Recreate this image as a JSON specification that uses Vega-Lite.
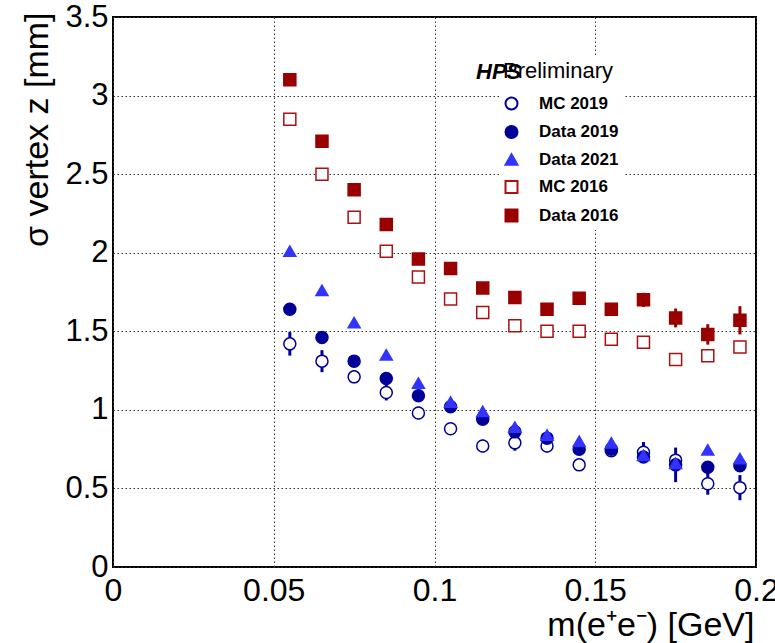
{
  "$schema": "https://vega.github.io/schema/vega-lite/v6.json",
  "width": 643,
  "height": 550,
  "autosize": {"type": "none"},
  "padding": {"left": 113, "top": 17, "right": 19, "bottom": 76},
  "background": "white",
  "config": {
    "font": "Liberation Sans",
    "view": {"stroke": "black", "strokeWidth": 2},
    "axis": {
      "labelFont": "Liberation Sans",
      "labelColor": "black",
      "titleFont": "Liberation Sans",
      "titleColor": "black",
      "titleFontWeight": "normal",
      "tickColor": "black",
      "tickWidth": 1,
      "tickSize": 0,
      "domain": false,
      "labelFlush": false,
      "labelOverlap": false,
      "labelBound": false,
      "format": "~g"
    },
    "legend": {
      "padding": 4,
      "fillColor": "white",
      "titleFont": "Liberation Sans",
      "titleFontSize": 22,
      "titleFontWeight": "normal",
      "titleColor": "black",
      "titleBaseline": "top",
      "titlePadding": 12,
      "labelFont": "Liberation Sans",
      "labelFontSize": 17,
      "labelFontWeight": "bold",
      "labelColor": "black",
      "labelOffset": 19,
      "rowPadding": 7.5,
      "symbolSize": 144,
      "symbolStrokeWidth": 2
    }
  },
  "title": {
    "text": "HPS",
    "font": "Liberation Sans",
    "fontSize": 22,
    "fontWeight": "bold",
    "fontStyle": "italic",
    "color": "black",
    "anchor": "start",
    "frame": "group",
    "baseline": "alphabetic",
    "offset": 0,
    "dx": 363,
    "dy": 100
  },
  "data": {
    "values": [
      {"x": 0.055, "series": "MC 2019", "value": 1.42, "err": 0.075},
      {"x": 0.065, "series": "MC 2019", "value": 1.31, "err": 0.07},
      {"x": 0.075, "series": "MC 2019", "value": 1.21, "err": 0.04},
      {"x": 0.085, "series": "MC 2019", "value": 1.11, "err": 0.05},
      {"x": 0.095, "series": "MC 2019", "value": 0.98, "err": 0.04},
      {"x": 0.105, "series": "MC 2019", "value": 0.88, "err": 0.02},
      {"x": 0.115, "series": "MC 2019", "value": 0.77, "err": 0.04},
      {"x": 0.125, "series": "MC 2019", "value": 0.79, "err": 0.05},
      {"x": 0.135, "series": "MC 2019", "value": 0.77, "err": 0.04},
      {"x": 0.145, "series": "MC 2019", "value": 0.65, "err": 0.02},
      {"x": 0.155, "series": "MC 2019", "value": 0.74, "err": 0.03},
      {"x": 0.165, "series": "MC 2019", "value": 0.73, "err": 0.065},
      {"x": 0.175, "series": "MC 2019", "value": 0.68, "err": 0.04},
      {"x": 0.185, "series": "MC 2019", "value": 0.53, "err": 0.07},
      {"x": 0.195, "series": "MC 2019", "value": 0.505, "err": 0.08},
      {"x": 0.055, "series": "Data 2019", "value": 1.64, "err": 0.02},
      {"x": 0.065, "series": "Data 2019", "value": 1.46, "err": 0.02},
      {"x": 0.075, "series": "Data 2019", "value": 1.31, "err": 0.02},
      {"x": 0.085, "series": "Data 2019", "value": 1.2, "err": 0.02},
      {"x": 0.095, "series": "Data 2019", "value": 1.09, "err": 0.02},
      {"x": 0.105, "series": "Data 2019", "value": 1.02, "err": 0.02},
      {"x": 0.115, "series": "Data 2019", "value": 0.94, "err": 0.02},
      {"x": 0.125, "series": "Data 2019", "value": 0.86, "err": 0.02},
      {"x": 0.135, "series": "Data 2019", "value": 0.82, "err": 0.02},
      {"x": 0.145, "series": "Data 2019", "value": 0.75, "err": 0.02},
      {"x": 0.155, "series": "Data 2019", "value": 0.75, "err": 0.03},
      {"x": 0.165, "series": "Data 2019", "value": 0.7, "err": 0.03},
      {"x": 0.175, "series": "Data 2019", "value": 0.65, "err": 0.11},
      {"x": 0.185, "series": "Data 2019", "value": 0.635, "err": 0.03},
      {"x": 0.195, "series": "Data 2019", "value": 0.645, "err": 0.04},
      {"x": 0.055, "series": "Data 2021", "value": 2.01, "err": 0.01},
      {"x": 0.065, "series": "Data 2021", "value": 1.76, "err": 0.01},
      {"x": 0.075, "series": "Data 2021", "value": 1.555, "err": 0.01},
      {"x": 0.085, "series": "Data 2021", "value": 1.35, "err": 0.01},
      {"x": 0.095, "series": "Data 2021", "value": 1.17, "err": 0.01},
      {"x": 0.105, "series": "Data 2021", "value": 1.05, "err": 0.01},
      {"x": 0.115, "series": "Data 2021", "value": 0.99, "err": 0.01},
      {"x": 0.125, "series": "Data 2021", "value": 0.89, "err": 0.01},
      {"x": 0.135, "series": "Data 2021", "value": 0.84, "err": 0.01},
      {"x": 0.145, "series": "Data 2021", "value": 0.8, "err": 0.01},
      {"x": 0.155, "series": "Data 2021", "value": 0.79, "err": 0.01},
      {"x": 0.165, "series": "Data 2021", "value": 0.71, "err": 0.01},
      {"x": 0.175, "series": "Data 2021", "value": 0.66, "err": 0.01},
      {"x": 0.185, "series": "Data 2021", "value": 0.745, "err": 0.01},
      {"x": 0.195, "series": "Data 2021", "value": 0.69, "err": 0.01},
      {"x": 0.055, "series": "MC 2016", "value": 2.85, "err": 0.01},
      {"x": 0.065, "series": "MC 2016", "value": 2.5, "err": 0.01},
      {"x": 0.075, "series": "MC 2016", "value": 2.225, "err": 0.01},
      {"x": 0.085, "series": "MC 2016", "value": 2.01, "err": 0.01},
      {"x": 0.095, "series": "MC 2016", "value": 1.845, "err": 0.01},
      {"x": 0.105, "series": "MC 2016", "value": 1.705, "err": 0.01},
      {"x": 0.115, "series": "MC 2016", "value": 1.62, "err": 0.01},
      {"x": 0.125, "series": "MC 2016", "value": 1.535, "err": 0.01},
      {"x": 0.135, "series": "MC 2016", "value": 1.5, "err": 0.01},
      {"x": 0.145, "series": "MC 2016", "value": 1.5, "err": 0.01},
      {"x": 0.155, "series": "MC 2016", "value": 1.45, "err": 0.01},
      {"x": 0.165, "series": "MC 2016", "value": 1.43, "err": 0.01},
      {"x": 0.175, "series": "MC 2016", "value": 1.32, "err": 0.01},
      {"x": 0.185, "series": "MC 2016", "value": 1.345, "err": 0.01},
      {"x": 0.195, "series": "MC 2016", "value": 1.4, "err": 0.01},
      {"x": 0.055, "series": "Data 2016", "value": 3.1, "err": 0.01},
      {"x": 0.065, "series": "Data 2016", "value": 2.71, "err": 0.01},
      {"x": 0.075, "series": "Data 2016", "value": 2.4, "err": 0.01},
      {"x": 0.085, "series": "Data 2016", "value": 2.18, "err": 0.01},
      {"x": 0.095, "series": "Data 2016", "value": 1.96, "err": 0.01},
      {"x": 0.105, "series": "Data 2016", "value": 1.9, "err": 0.01},
      {"x": 0.115, "series": "Data 2016", "value": 1.775, "err": 0.01},
      {"x": 0.125, "series": "Data 2016", "value": 1.715, "err": 0.01},
      {"x": 0.135, "series": "Data 2016", "value": 1.64, "err": 0.01},
      {"x": 0.145, "series": "Data 2016", "value": 1.71, "err": 0.01},
      {"x": 0.155, "series": "Data 2016", "value": 1.64, "err": 0.01},
      {"x": 0.165, "series": "Data 2016", "value": 1.7, "err": 0.045},
      {"x": 0.175, "series": "Data 2016", "value": 1.585, "err": 0.06},
      {"x": 0.185, "series": "Data 2016", "value": 1.48, "err": 0.065},
      {"x": 0.195, "series": "Data 2016", "value": 1.57, "err": 0.09}
    ]
  },
  "layer": [
    {
      "mark": {"type": "errorbar", "thickness": 3},
      "encoding": {
        "x": {
          "field": "x",
          "type": "quantitative",
          "scale": {"domain": [0, 0.2], "nice": false, "zero": false},
          "axis": {
            "orient": "top",
            "title": null,
            "labels": false,
            "grid": false,
            "values": [0, 0.01, 0.02, 0.03, 0.04, 0.05, 0.06, 0.07, 0.08, 0.09, 0.1, 0.11, 0.12, 0.13, 0.14, 0.15, 0.16, 0.17, 0.18, 0.19, 0.2],
            "encode": {"ticks": {"update": {"y2": {"signal": "abs(datum.value*20-round(datum.value*20))<0.001 ? 16 : 8"}}}}
          }
        },
        "y": {
          "field": "value",
          "type": "quantitative",
          "scale": {"domain": [0, 3.5], "nice": false, "zero": false},
          "axis": {
            "orient": "right",
            "title": null,
            "labels": false,
            "grid": false,
            "values": [0, 0.1, 0.2, 0.3, 0.4, 0.5, 0.6, 0.7, 0.8, 0.9, 1, 1.1, 1.2, 1.3, 1.4, 1.5, 1.6, 1.7, 1.8, 1.9, 2, 2.1, 2.2, 2.3, 2.4, 2.5, 2.6, 2.7, 2.8, 2.9, 3, 3.1, 3.2, 3.3, 3.4, 3.5],
            "encode": {"ticks": {"update": {"x2": {"signal": "abs(datum.value*2-round(datum.value*2))<0.001 ? -16 : -8"}}}}
          }
        },
        "yError": {"field": "err"},
        "color": {
          "field": "series",
          "type": "nominal",
          "scale": {"domain": ["Data 2016", "MC 2016", "Data 2021", "Data 2019", "MC 2019"], "range": ["#990000", "#990000", "#3333ff", "#000099", "#000099"]},
          "legend": null
        }
      }
    },
    {
      "mark": {"type": "point", "strokeWidth": 1.5, "opacity": 1},
      "encoding": {
        "x": {
          "field": "x",
          "type": "quantitative",
          "scale": {"domain": [0, 0.2], "nice": false, "zero": false},
          "axis": {
            "orient": "bottom",
            "title": "m(e⁺e⁻) [GeV]",
            "titleFontSize": 34,
            "titleAlign": "right",
            "titleBaseline": "middle",
            "titleX": 641,
            "titleY": 58,
            "labelFontSize": 32,
            "labelPadding": 8,
            "labelBaseline": "top",
            "labelExpr": "abs(datum.value*20-round(datum.value*20))<0.001 ? datum.label : ''",
            "values": [0, 0.01, 0.02, 0.03, 0.04, 0.05, 0.06, 0.07, 0.08, 0.09, 0.1, 0.11, 0.12, 0.13, 0.14, 0.15, 0.16, 0.17, 0.18, 0.19, 0.2],
            "grid": true,
            "gridColor": "#333333",
            "gridDash": [1.5, 2.5],
            "gridWidth": 1,
            "gridOpacity": {"condition": {"test": "abs(datum.value*20-round(datum.value*20))<0.001", "value": 1}, "value": 0},
            "encode": {"ticks": {"update": {"y2": {"signal": "abs(datum.value*20-round(datum.value*20))<0.001 ? -16 : -8"}}}}
          }
        },
        "y": {
          "field": "value",
          "type": "quantitative",
          "scale": {"domain": [0, 3.5], "nice": false, "zero": false},
          "axis": {
            "orient": "left",
            "title": "σ vertex z [mm]",
            "titleFontSize": 34,
            "titleAngle": -90,
            "titleAlign": "right",
            "titleBaseline": "middle",
            "titleX": -76,
            "titleY": -5,
            "labelFontSize": 31,
            "labelPadding": 5,
            "labelExpr": "abs(datum.value*2-round(datum.value*2))<0.001 ? datum.label : ''",
            "values": [0, 0.1, 0.2, 0.3, 0.4, 0.5, 0.6, 0.7, 0.8, 0.9, 1, 1.1, 1.2, 1.3, 1.4, 1.5, 1.6, 1.7, 1.8, 1.9, 2, 2.1, 2.2, 2.3, 2.4, 2.5, 2.6, 2.7, 2.8, 2.9, 3, 3.1, 3.2, 3.3, 3.4, 3.5],
            "grid": true,
            "gridColor": "#333333",
            "gridDash": [1.5, 2.5],
            "gridWidth": 1,
            "gridOpacity": {"condition": {"test": "abs(datum.value*2-round(datum.value*2))<0.001", "value": 1}, "value": 0},
            "encode": {"ticks": {"update": {"x2": {"signal": "abs(datum.value*2-round(datum.value*2))<0.001 ? 16 : 8"}}}}
          }
        },
        "size": {
          "field": "series",
          "type": "nominal",
          "scale": {"domain": ["Data 2016", "MC 2016", "Data 2021", "Data 2019", "MC 2019"], "range": [144, 144, 190, 120, 120]},
          "legend": null
        },
        "shape": {
          "field": "series",
          "type": "nominal",
          "scale": {"domain": ["MC 2019", "Data 2019", "Data 2021", "MC 2016", "Data 2016"], "range": ["circle", "circle", "triangle-up", "square", "square"]},
          "legend": {"title": "\u00a0\u00a0\u00a0\u00a0\u00a0Preliminary", "orient": "none", "legendX": 386, "legendY": 40}
        },
        "fill": {
          "field": "series",
          "type": "nominal",
          "scale": {"domain": ["MC 2019", "Data 2019", "Data 2021", "MC 2016", "Data 2016"], "range": ["white", "#000099", "#3333ff", "white", "#990000"]},
          "legend": {"title": "\u00a0\u00a0\u00a0\u00a0\u00a0Preliminary", "orient": "none", "legendX": 386, "legendY": 40}
        },
        "stroke": {
          "field": "series",
          "type": "nominal",
          "scale": {"domain": ["MC 2019", "Data 2019", "Data 2021", "MC 2016", "Data 2016"], "range": ["#000099", "#000099", "#3333ff", "#aa1111", "#990000"]},
          "legend": {"title": "\u00a0\u00a0\u00a0\u00a0\u00a0Preliminary", "orient": "none", "legendX": 386, "legendY": 40}
        }
      }
    }
  ],
  "resolve": {"axis": {"x": "independent", "y": "independent"}}
}
